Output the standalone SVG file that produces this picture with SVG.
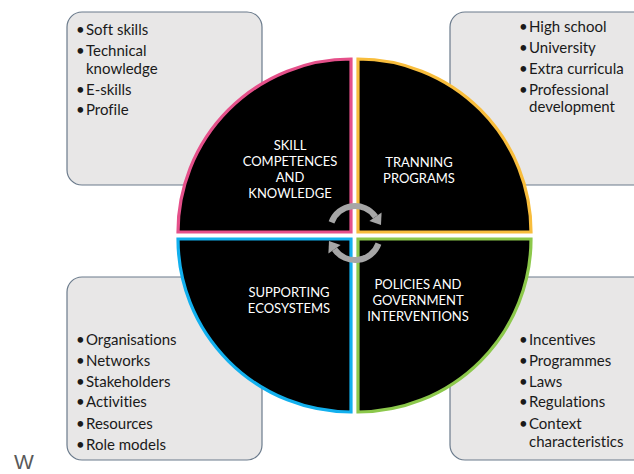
<svg xmlns="http://www.w3.org/2000/svg" width="634" height="474" viewBox="0 0 634 474">
<style>
.box{fill:#e8e7e7;stroke:#6b7b8c;stroke-width:1.2}
.bt{font-family:Lato,"Open Sans",sans-serif;font-size:15px;fill:#1a1a1a;font-variant-ligatures:none}
.q{stroke-width:3.2;fill:#000}
.qt{font-family:Lato,"Open Sans",sans-serif;font-size:13px;fill:#ffffff;text-anchor:middle}
.arc{fill:none;stroke:#a6a6a6;stroke-width:6}
.ah{fill:#a6a6a6}
</style>
<rect width="634" height="474" fill="#ffffff"/>
<g id="box-skills">
<rect class="box" x="67" y="12" width="195" height="173" rx="15"/>
<text class="bt"><tspan x="76" y="35">•</tspan><tspan x="86" y="35">Soft skills</tspan></text>
<text class="bt"><tspan x="76" y="56">•</tspan><tspan x="86" y="56">Technical</tspan><tspan x="86" y="74">knowledge</tspan></text>
<text class="bt"><tspan x="76" y="95">•</tspan><tspan x="86" y="95">E-skills</tspan></text>
<text class="bt"><tspan x="76" y="115">•</tspan><tspan x="86" y="115">Profile</tspan></text>
</g>
<g id="box-training">
<rect class="box" x="450" y="12" width="200" height="173" rx="15"/>
<text class="bt"><tspan x="519" y="32">•</tspan><tspan x="529" y="32">High school</tspan></text>
<text class="bt"><tspan x="519" y="53">•</tspan><tspan x="529" y="53">University</tspan></text>
<text class="bt"><tspan x="519" y="74">•</tspan><tspan x="529" y="74">Extra curricula</tspan></text>
<text class="bt"><tspan x="519" y="95">•</tspan><tspan x="529" y="95">Professional</tspan><tspan x="529" y="112">development</tspan></text>
</g>
<g id="box-ecosystems">
<rect class="box" x="67" y="277" width="195" height="183" rx="15"/>
<text class="bt"><tspan x="76" y="345">•</tspan><tspan x="86" y="345">Organisations</tspan></text>
<text class="bt"><tspan x="76" y="366">•</tspan><tspan x="86" y="366">Networks</tspan></text>
<text class="bt"><tspan x="76" y="387">•</tspan><tspan x="86" y="387">Stakeholders</tspan></text>
<text class="bt"><tspan x="76" y="407">•</tspan><tspan x="86" y="407">Activities</tspan></text>
<text class="bt"><tspan x="76" y="429">•</tspan><tspan x="86" y="429">Resources</tspan></text>
<text class="bt"><tspan x="76" y="450">•</tspan><tspan x="86" y="450">Role models</tspan></text>
</g>
<g id="box-policies">
<rect class="box" x="450" y="277" width="200" height="183" rx="15"/>
<text class="bt"><tspan x="519" y="345">•</tspan><tspan x="529" y="345">Incentives</tspan></text>
<text class="bt"><tspan x="519" y="366">•</tspan><tspan x="529" y="366">Programmes</tspan></text>
<text class="bt"><tspan x="519" y="387">•</tspan><tspan x="529" y="387">Laws</tspan></text>
<text class="bt"><tspan x="519" y="407">•</tspan><tspan x="529" y="407">Regulations</tspan></text>
<text class="bt"><tspan x="519" y="429">•</tspan><tspan x="529" y="429">Context</tspan><tspan x="529" y="447">characteristics</tspan></text>
</g>
<g id="q-skills">
<path class="q" stroke="#e5508a" d="M351,232 L178,232 A173,173 0 0 1 351,59 Z"/>
<text class="qt"><tspan x="290" y="150">SKILL</tspan><tspan x="290" y="166">COMPETENCES</tspan><tspan x="290" y="182">AND</tspan><tspan x="290" y="198">KNOWLEDGE</tspan></text>
</g>
<g id="q-training">
<path class="q" stroke="#f8bd3c" d="M358,232 L358,59 A173,173 0 0 1 531,232 Z"/>
<text class="qt"><tspan x="419" y="167">TRANNING</tspan><tspan x="419" y="183">PROGRAMS</tspan></text>
</g>
<g id="q-ecosystems">
<path class="q" stroke="#12b0ee" d="M351,239 L351,412 A173,173 0 0 1 178,239 Z"/>
<text class="qt"><tspan x="289" y="297">SUPPORTING</tspan><tspan x="289" y="313">ECOSYSTEMS</tspan></text>
</g>
<g id="q-policies">
<path class="q" stroke="#8cc84b" d="M358,239 L531,239 A173,173 0 0 1 358,412 Z"/>
<text class="qt"><tspan x="418" y="289">POLICIES AND</tspan><tspan x="418" y="305">GOVERNMENT</tspan><tspan x="418" y="321">INTERVENTIONS</tspan></text>
</g>
<g id="connectors">
<path class="arc" d="M331.5,222.4 A25,25 0 0 1 375.5,216.7"/>
<polygon class="ah" points="381.6,212.4 369.4,221.0 381.0,225.0"/>
<path class="arc" d="M378.5,243.6 A25,25 0 0 1 334.5,249.3"/>
<polygon class="ah" points="328.4,253.6 340.6,245.0 329.0,241.0"/>
</g>
<text x="14" y="469" font-family="'Liberation Sans',Arial,sans-serif" font-size="21" fill="#595959">W</text>
</svg>
